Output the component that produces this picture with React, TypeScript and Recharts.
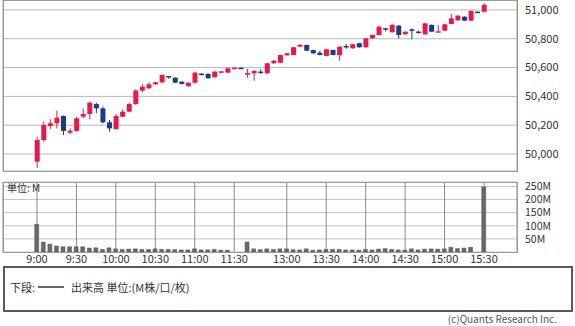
import { ComposedChart, Bar, XAxis, YAxis, CartesianGrid } from "recharts";

const FONT = '"Noto Sans CJK JP", "Noto Sans", sans-serif';
const UP = "#e5194a";
const DOWN = "#1d3a8a";

// 5-minute slots, 9:00 .. 15:30 (lunch break folded into one slot)
const times = [
  "9:00", "9:05", "9:10", "9:15", "9:20", "9:25", "9:30", "9:35", "9:40", "9:45", "9:50", "9:55",
  "10:00", "10:05", "10:10", "10:15", "10:20", "10:25", "10:30", "10:35", "10:40", "10:45", "10:50", "10:55",
  "11:00", "11:05", "11:10", "11:15", "11:20", "11:25", "11:30",
  "12:25",
  "12:30", "12:35", "12:40", "12:45", "12:50", "12:55",
  "13:00", "13:05", "13:10", "13:15", "13:20", "13:25", "13:30", "13:35", "13:40", "13:45", "13:50", "13:55",
  "14:00", "14:05", "14:10", "14:15", "14:20", "14:25", "14:30", "14:35", "14:40", "14:45", "14:50", "14:55",
  "15:00", "15:05", "15:10", "15:15", "15:20", "15:25", "15:30",
];

const opens = [
  49947, 50097, 50194, 50213, 50264, 50148, 50160, 50259, 50278, 50347,
  50317, 50220, 50172, 50259, 50294, 50347, 50440, 50456, 50484, 50498,
  50541, 50530, 50502, 50472, 50495, 50558, 50556, 50533, 50570, 50565,
  50597, 50599, 50551, 50560, 50572, 50560, 50630, 50634, 50685, 50687,
  50745, 50757, 50722, 50703, 50681, 50722, 50687, 50750, 50734, 50769,
  50741, 50803, 50826, 50873, 50845, 50891, 50831, 50865, 50850, 50831,
  50896, 50849, 50856, 50903, 50928, 50953, 50926, 50988, 50988,
];

const highs = [
  50120, 50224, 50241, 50301, 50268, 50178, 50259, 50317, 50363, 50356,
  50329, 50236, 50278, 50310, 50356, 50450, 50484, 50498, 50502, 50553,
  50542, 50532, 50505, 50497, 50570, 50560, 50560, 50575, 50576, 50600,
  50601, 50601, 50590, 50583, 50588, 50634, 50652, 50690, 50703, 50745,
  50764, 50760, 50724, 50717, 50730, 50725, 50748, 50764, 50765, 50772,
  50806, 50829, 50887, 50875, 50903, 50895, 50852, 50873, 50856, 50910,
  50900, 50896, 50905, 50972, 50965, 50956, 50996, 50990, 51046,
];

const lows = [
  49903, 50085, 50172, 50178, 50132, 50139, 50155, 50248, 50241, 50283,
  50213, 50155, 50170, 50255, 50290, 50340, 50428, 50451, 50480, 50491,
  50522, 50492, 50483, 50465, 50488, 50545, 50522, 50530, 50562, 50562,
  50597, 50598, 50530, 50509, 50556, 50556, 50627, 50630, 50683, 50685,
  50743, 50714, 50696, 50685, 50678, 50685, 50648, 50731, 50730, 50738,
  50738, 50800, 50822, 50850, 50842, 50803, 50828, 50796, 50835, 50828,
  50846, 50848, 50853, 50900, 50925, 50923, 50923, 50985, 50981,
];

const closes = [
  50097, 50201, 50213, 50252, 50160, 50162, 50248, 50278, 50356, 50317,
  50220, 50178, 50264, 50294, 50347, 50440, 50467, 50484, 50498, 50549,
  50533, 50495, 50486, 50495, 50565, 50553, 50526, 50572, 50574, 50595,
  50599, 50599, 50562, 50576, 50562, 50630, 50648, 50687, 50699, 50741,
  50757, 50717, 50699, 50687, 50727, 50687, 50745, 50741, 50762, 50741,
  50803, 50826, 50884, 50866, 50896, 50826, 50849, 50858, 50845, 50907,
  50849, 50852, 50900, 50942, 50960, 50926, 50993, 50986, 51035,
];

// volume, millions
const volumes = [
  106, 38, 30, 23, 20, 20, 20, 20, 15, 16,
  10, 16, 12, 10, 11, 12, 10, 10, 12, 10,
  10, 9, 8, 8, 12, 8, 8, 10, 7, 7,
  0, 0, 38, 12, 9, 12, 10, 12, 12, 9,
  8, 12, 7, 8, 10, 10, 10, 8, 8, 7,
  10, 8, 11, 13, 10, 8, 7, 12, 8, 11,
  12, 11, 12, 18, 13, 15, 18, 0, 248,
];

const timeTicks = ["9:00", "9:30", "10:00", "10:30", "11:00", "11:30", "13:00", "13:30", "14:00", "14:30", "15:00", "15:30"];
const priceTicks = [50000, 50200, 50400, 50600, 50800, 51000];
const volumeTicks = [50, 100, 150, 200, 250];

const rows = times.map((t, i) => ({
  t,
  open: opens[i],
  high: highs[i],
  low: lows[i],
  close: closes[i],
  volume: volumes[i],
}));

const Candle = (props: any) => {
  const { x, y, width, height, payload } = props;
  if (!payload || height == null) return null;
  const { open, close, high, low } = payload;
  const color = close > open ? UP : DOWN;
  const span = high - low || 1;
  const py = (v: number) => y + ((high - v) / span) * height;
  const cx = x + width / 2;
  const top = py(Math.max(open, close));
  const bot = py(Math.min(open, close));
  return (
    <g>
      <line x1={cx} x2={cx} y1={y} y2={y + height} stroke={color} strokeWidth={1} />
      <rect x={x} y={top} width={width} height={Math.max(bot - top, 1.5)} fill={color} />
    </g>
  );
};

const tickStyle = { fontSize: 11, fill: "#333", fontFamily: FONT };
const volTickStyle = { fontSize: 10.5, fill: "#333", fontFamily: FONT };
const xPad = { left: 30.7, right: 29.7 };

export default function App() {
  return (
    <div style={{ position: "absolute", left: 0, top: 0, width: 575, height: 326, background: "#fff", fontFamily: FONT, color: "#333" }}>
      <div style={{ position: "absolute", left: 0, top: 0 }}>
        <ComposedChart width={575} height={172} data={rows} margin={{ top: 0, right: 0, left: 3, bottom: 1 }}>
          <CartesianGrid vertical={false} stroke="#b8b8b8" />
          <CartesianGrid horizontal={false} stroke="#9a9a9a" />
          <XAxis dataKey="t" ticks={timeTicks} interval={0} padding={xPad} height={0} tick={false} axisLine={false} tickLine={false} />
          <YAxis
            orientation="right"
            width={58}
            domain={[49882, 51069]}
            allowDataOverflow
            ticks={priceTicks}
            interval={0}
            tick={tickStyle}
            axisLine={false}
            tickLine={false}
            tickFormatter={(v) => Number(v).toLocaleString("en-US")}
          />
          <Bar dataKey={(d: any) => [d.low, d.high]} barSize={5} shape={<Candle />} isAnimationActive={false} />
        </ComposedChart>
      </div>
      <div style={{ position: "absolute", left: 3, top: 0, width: 515, height: 172, boxSizing: "border-box", border: "1px solid #9a9a9a", pointerEvents: "none" }} />

      <div style={{ position: "absolute", left: 0, top: 176 }}>
        <ComposedChart width={575} height={96} data={rows} margin={{ top: 6, right: 0, left: 3, bottom: 0 }}>
          <CartesianGrid vertical={false} stroke="#c4c4c4" />
          <CartesianGrid horizontal={false} stroke="#8a8a8a" />
          <XAxis dataKey="t" ticks={timeTicks} interval={0} padding={xPad} height={20} tick={tickStyle} axisLine={false} tickLine={false} tickSize={0} tickMargin={3} />
          <YAxis
            orientation="right"
            width={58}
            domain={[0, 267]}
            allowDataOverflow
            ticks={volumeTicks}
            interval={0}
            tick={volTickStyle}
            axisLine={false}
            tickLine={false}
            tickFormatter={(v) => `${v}M`}
          />
          <Bar dataKey="volume" barSize={4} fill="#686868" stroke="#555" strokeWidth={0.5} isAnimationActive={false} />
        </ComposedChart>
      </div>
      <div style={{ position: "absolute", left: 3, top: 182, width: 515, height: 71, boxSizing: "border-box", border: "1px solid #9a9a9a", pointerEvents: "none" }} />
      <div style={{ position: "absolute", left: 7, top: 181, fontSize: 10, lineHeight: "13px" }}>単位: M</div>

      <div style={{ position: "absolute", left: 3, top: 266, width: 570, height: 46, boxSizing: "border-box", border: "2px solid #5a5a5a" }} />
      <div style={{ position: "absolute", left: 10, top: 280, fontSize: 11, lineHeight: "14px" }}>下段:</div>
      <div style={{ position: "absolute", left: 38, top: 286, width: 26, height: 2, background: "#666" }} />
      <div style={{ position: "absolute", left: 71, top: 280, fontSize: 11, lineHeight: "14px" }}>出来高 単位:(M株/口/枚)</div>
      <div style={{ position: "absolute", right: 18, top: 312, fontSize: 10, lineHeight: "13px", color: "#555" }}>(c)Quants Research Inc.</div>
    </div>
  );
}
